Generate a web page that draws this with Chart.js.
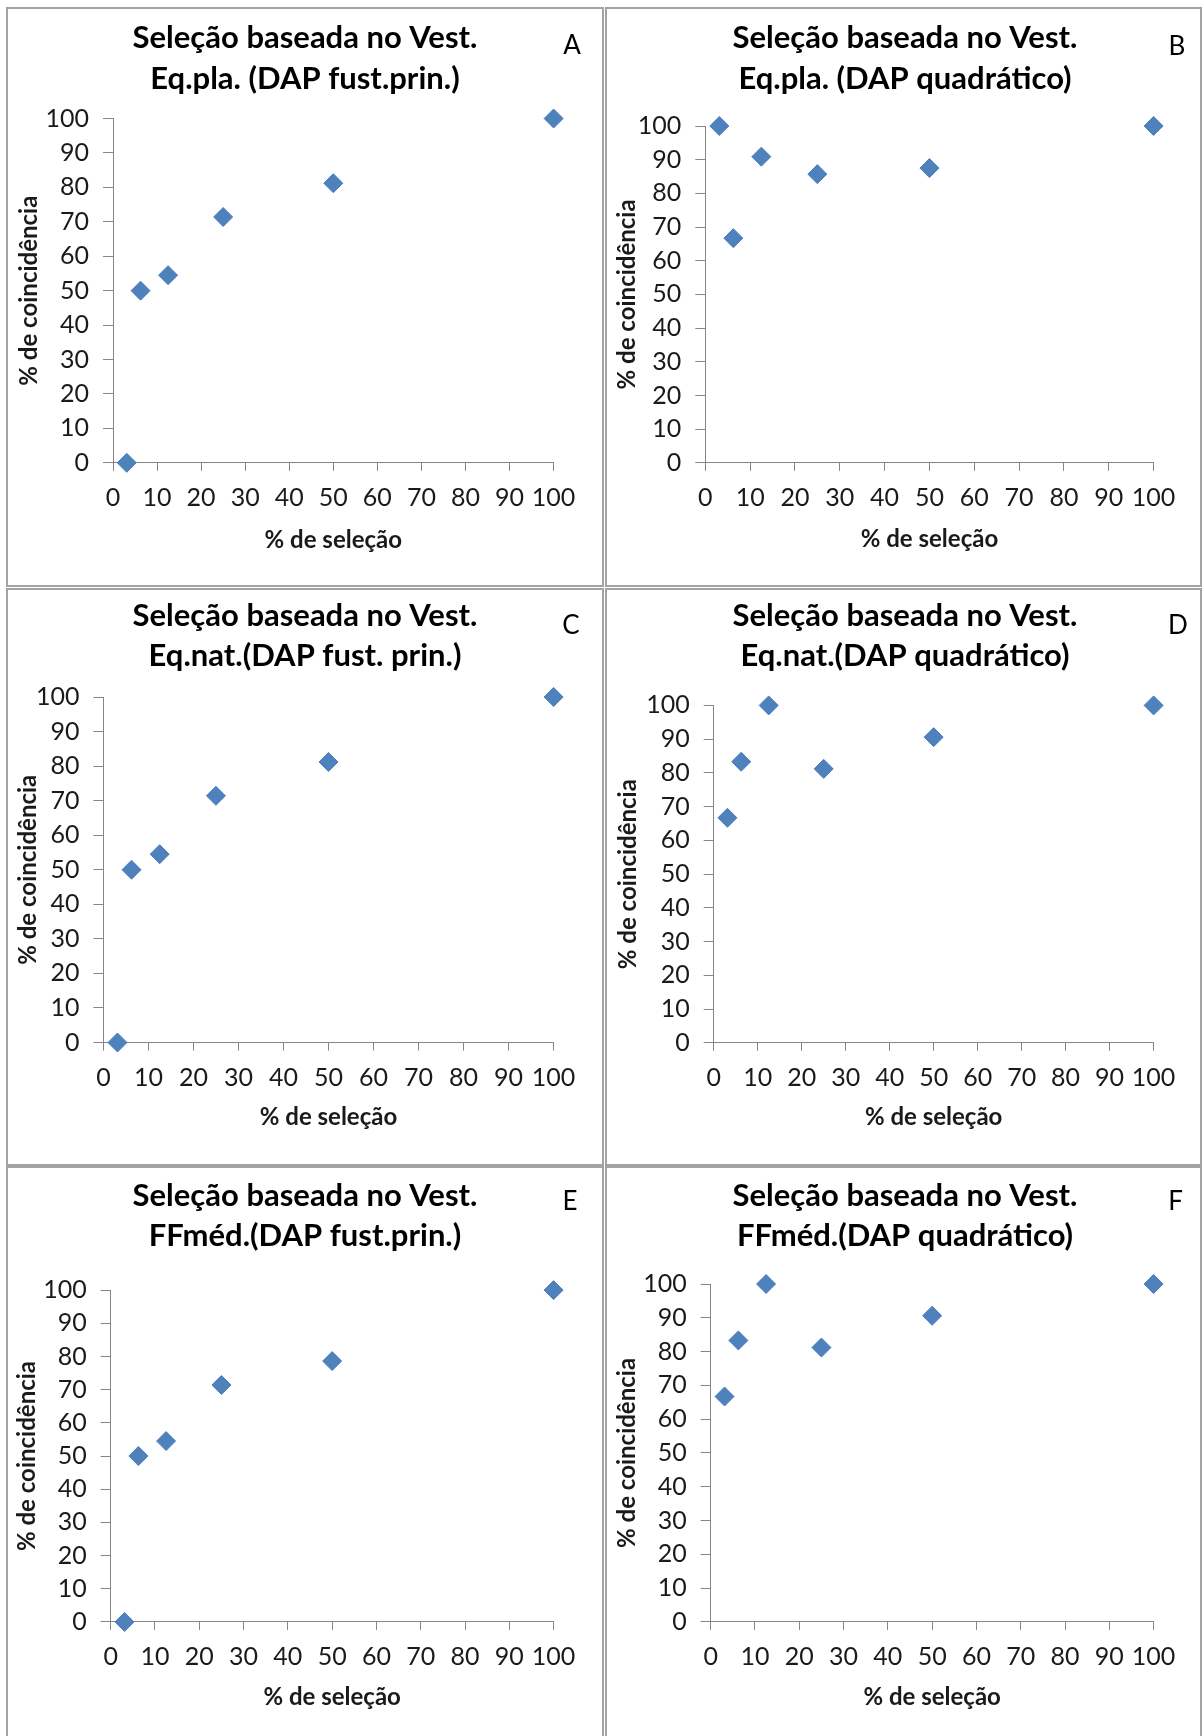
<!DOCTYPE html>
<html><head><meta charset="utf-8">
<script src="https://cdn.jsdelivr.net/npm/chart.js@4/dist/chart.umd.min.js"></script>
<style>
html,body{margin:0;padding:0;background:#fff;}
body{width:1203px;height:1736px;position:relative;overflow:hidden;}
.frame{position:absolute;box-sizing:border-box;border:2px solid #a3a3a3;}
canvas{position:absolute;}
</style></head><body>
<script>
// ---- data ----
const xSelection = [3.125, 6.25, 12.5, 25, 50, 100];
const coincA = [0, 50, 54.5, 71.4, 81.2, 100];
const coincB = [100, 66.7, 90.9, 85.7, 87.5, 100];
const coincC = [0, 50, 54.5, 71.4, 81.2, 100];
const coincD = [66.7, 83.3, 100, 81.2, 90.6, 100];
const coincE = [0, 50, 54.5, 71.4, 78.6, 100];
const coincF = [66.7, 83.3, 100, 81.2, 90.6, 100];
const titleLine1 = "Seleção baseada no Vest.";
const titleLines2 = ["Eq.pla. (DAP fust.prin.)", "Eq.pla. (DAP quadrático)", "Eq.nat.(DAP fust. prin.)", "Eq.nat.(DAP quadrático)", "FFméd.(DAP fust.prin.)", "FFméd.(DAP quadrático)"];
const panelLetters = ["A", "B", "C", "D", "E", "F"];
const xAxisTitle = "% de seleção";
const yAxisTitle = "% de coincidência";
const axisMin = 0, axisMax = 100, axisStep = 10;

// ---- layout (page pixels) ----
const layouts = [
  {frame:[6,7,598,580],    canvas:[8,9,594,576],     plot:[113,553.6,118.5,462.8],   titleY:38.3,   xTitleY:540,  yTitleX:29,  letter:[572,46]},
  {frame:[605,7,597,580],  canvas:[610,9,590,576],   plot:[705.3,1153.6,126,462.8],  titleY:38.3,   xTitleY:539,  yTitleX:627, letter:[1177,47]},
  {frame:[6,588,598,578],  canvas:[8,590,594,573],   plot:[103.4,553.6,697,1042.5],  titleY:615.8,  xTitleY:1117, yTitleX:28,  letter:[571,626]},
  {frame:[605,588,597,578],canvas:[610,590,590,573], plot:[713.7,1153.6,705.4,1042.9],titleY:615.8, xTitleY:1117, yTitleX:628, letter:[1178,626]},
  {frame:[6,1166,598,600], canvas:[8,1168,594,568],  plot:[110.7,553.6,1290.1,1621.9],titleY:1195.6,xTitleY:1697, yTitleX:27,  letter:[570,1202]},
  {frame:[605,1166,597,600],canvas:[610,1168,590,568],plot:[710.7,1153.6,1284,1621.9], titleY:1195.6,xTitleY:1697, yTitleX:627, letter:[1175.5,1202]}
];
const seriesList = [coincA, coincB, coincC, coincD, coincE, coincF];

const FONT = 'Lato';
const TITLE_SIZE = 31, TITLE_LH = 40.4;
const AX_SIZE = 24, AX_LH = 28.8;
const TICK_SIZE = 25;
const AXIS_COLOR = '#868686';
const MARKER = '#4F81BD';

const letterPlugin = {
  id: 'panelLetter',
  afterDraw(chart, args, opts) {
    const ctx = chart.ctx;
    ctx.save();
    ctx.font = '26px ' + FONT;
    ctx.fillStyle = '#000';
    ctx.textAlign = 'center';
    ctx.textBaseline = 'middle';
    ctx.fillText(opts.text, opts.x, opts.y);
    ctx.restore();
  }
};

function build() {
  layouts.forEach((L, i) => {
    const f = document.createElement('div');
    f.className = 'frame';
    f.style.left = L.frame[0] + 'px'; f.style.top = L.frame[1] + 'px';
    f.style.width = L.frame[2] + 'px'; f.style.height = L.frame[3] + 'px';
    document.body.appendChild(f);

    const [cl, ct, cw, ch] = L.canvas;
    const cv = document.createElement('canvas');
    cv.width = cw; cv.height = ch;
    cv.style.left = cl + 'px'; cv.style.top = ct + 'px';
    cv.style.width = cw + 'px'; cv.style.height = ch + 'px';
    document.body.appendChild(cv);

    const [x0, x100, yTop, y0] = L.plot;
    const rightW = cl + cw - x100;   // empty space right of plot (held by a blank right axis)
    const yAxisW = x0 - cl;
    const xAxisH = ct + ch - y0;
    const tPadTop = L.titleY - ct - TITLE_LH / 2;
    const tPadBottom = (yTop - ct) - tPadTop - 2 * TITLE_LH;
    const xtPadBottom = ct + ch - L.xTitleY - AX_LH / 2;
    const ytPadTop = L.yTitleX - cl - AX_LH / 2;

    new Chart(cv, {
      type: 'scatter',
      data: {
        datasets: [{
          data: xSelection.map((x, k) => ({x: x, y: seriesList[i][k]})),
          pointStyle: 'rectRot',
          pointRadius: 9.5,
          pointHoverRadius: 9.5,
          backgroundColor: MARKER,
          borderColor: '#4A7EBB',
          borderWidth: 1,
          clip: false
        }]
      },
      options: {
        responsive: false,
        animation: false,
        devicePixelRatio: 1,
        layout: {padding: 0},
        plugins: {
          legend: {display: false},
          tooltip: {enabled: false},
          title: {
            display: true,
            text: [titleLine1, titleLines2[i]],
            color: '#000',
            font: {family: FONT, size: TITLE_SIZE, weight: 'bold', lineHeight: TITLE_LH / TITLE_SIZE},
            padding: {top: tPadTop, bottom: tPadBottom}
          },
          panelLetter: {text: panelLetters[i], x: L.letter[0] - cl, y: L.letter[1] - ct}
        },
        scales: {
          x: {
            type: 'linear', min: axisMin, max: axisMax,
            ticks: {stepSize: axisStep, color: '#1a1a1a', font: {family: FONT, size: TICK_SIZE, lineHeight: 1.2}, padding: 12, maxRotation: 0, autoSkip: false},
            grid: {drawOnChartArea: false, drawTicks: true, tickLength: 8, color: AXIS_COLOR},
            border: {color: AXIS_COLOR, width: 1},
            title: {display: true, text: xAxisTitle, color: '#1a1a1a', font: {family: FONT, size: AX_SIZE, weight: 'bold', lineHeight: 1.2}, padding: {top: 0, bottom: xtPadBottom}},
            afterFit(s) { s.height = xAxisH; }
          },
          y: {
            type: 'linear', min: axisMin, max: axisMax,
            ticks: {stepSize: axisStep, color: '#1a1a1a', font: {family: FONT, size: TICK_SIZE, lineHeight: 1.2}, padding: 14},
            grid: {drawOnChartArea: false, drawTicks: true, tickLength: 10, color: AXIS_COLOR},
            border: {color: AXIS_COLOR, width: 1},
            title: {display: true, text: yAxisTitle, color: '#1a1a1a', font: {family: FONT, size: AX_SIZE, weight: 'bold', lineHeight: 1.2}, padding: {top: ytPadTop, bottom: 0}},
            afterFit(s) { s.width = yAxisW; }
          },
          yRight: {
            type: 'linear', position: 'right', min: axisMin, max: axisMax,
            ticks: {display: false},
            grid: {display: false, drawTicks: false},
            border: {display: false},
            afterFit(s) { s.width = rightW; }
          }
        }
      },
      plugins: [letterPlugin]
    });
  });
}
if (document.fonts && document.fonts.load) {
  Promise.all([document.fonts.load('bold 31px Lato'), document.fonts.load('25px Lato'), document.fonts.load('bold 24px Lato')]).then(build, build);
} else { build(); }
</script>
</body></html>
